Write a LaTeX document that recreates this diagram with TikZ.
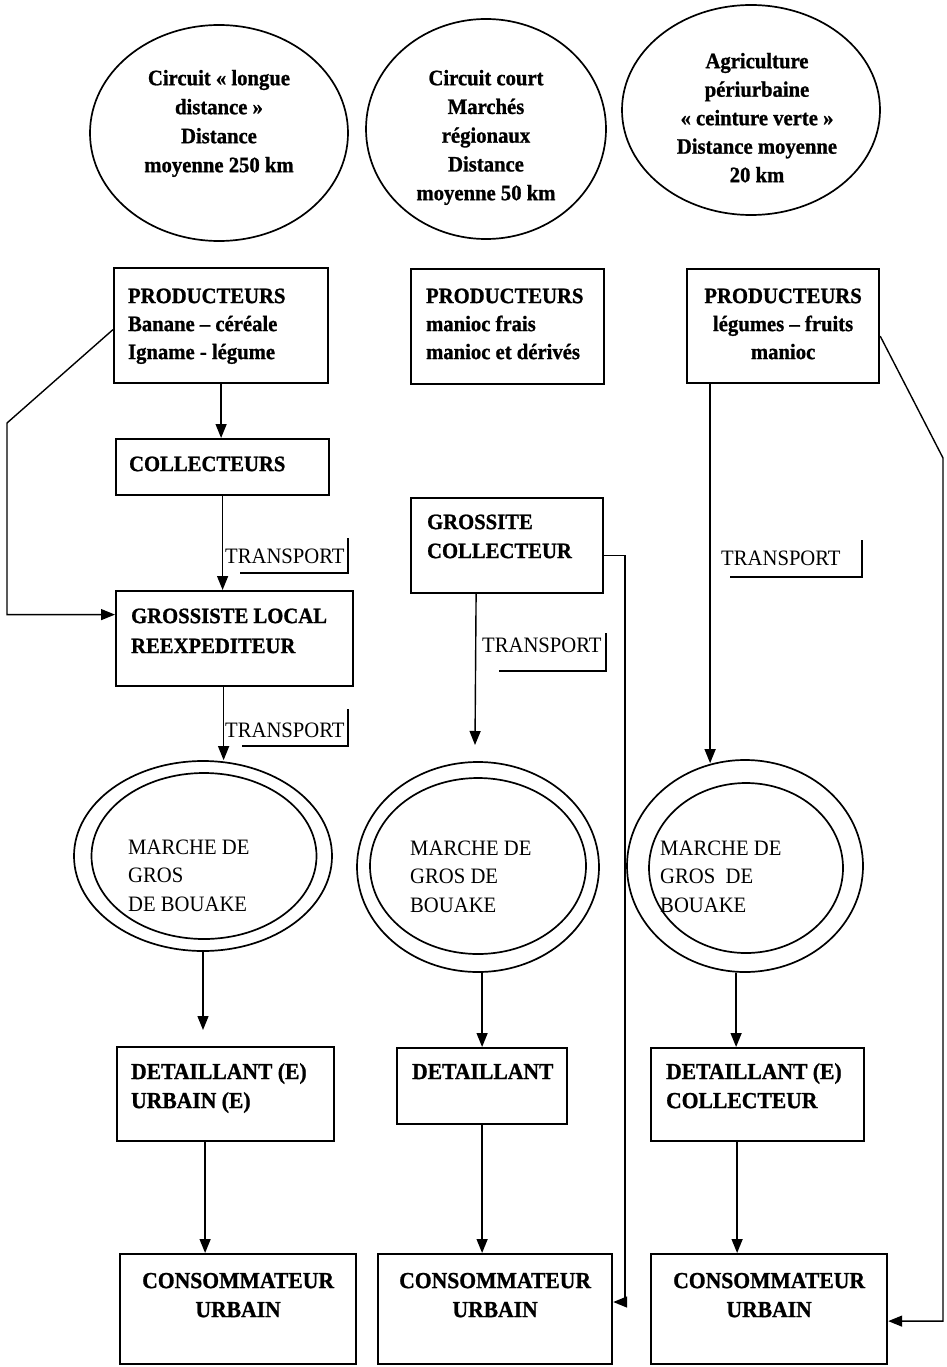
\documentclass[tikz,border=0pt]{standalone}
\usepackage{fontspec}
\setmainfont{Liberation Serif}[FakeStretch=0.94, BoldFeatures={FakeBold=1}]
\usetikzlibrary{shapes.geometric,arrows.meta,calc}
\newcommand{\bxL}[5]{\parbox[t][#2][t]{#1}{\vspace*{#3}\raggedright\leftskip=#4\relax\rule{0pt}{17pt}#5}}
\newcommand{\bxC}[4]{\parbox[t][#2][t]{#1}{\vspace*{#3}\centering\rule{0pt}{17pt}#4}}
\begin{document}
\begin{tikzpicture}[x=1pt,y=-1pt,
 box/.style={draw, line width=2.2pt, inner sep=0pt, anchor=north west, font=\fontsize{22}{28}\selectfont\bfseries},
 lowbox/.style={box, font=\fontsize{23}{29}\selectfont\bfseries},
 oval/.style={draw, ellipse, line width=1.7pt, inner sep=0pt},
 arr/.style={line width=1.4pt, -{Triangle[length=14pt,width=11pt]}},
 lbl/.style={inner sep=0pt, anchor=base west, font=\fontsize{22}{28}\selectfont},
 bracket/.style={line width=1.3pt},
 etext/.style={inner sep=0pt, anchor=north, align=center},
 mtext/.style={inner sep=0pt, anchor=north west, align=left, font=\fontsize{22}{28.5}\selectfont}]
\fill[white] (0,0) rectangle (947,1367);
\useasboundingbox (0,0) rectangle (947,1367);

% top ellipses
\node[oval, minimum width=258pt, minimum height=216pt] (e1) at (219,133) {};
\node[oval, minimum width=240pt, minimum height=220pt] (e2) at (486,129) {};
\node[oval, minimum width=258pt, minimum height=210pt] (e3) at (751,110) {};
\node[etext, font=\fontsize{22}{29}\selectfont\bfseries] (e1t) at (219,68) {\rule{0pt}{17pt}Circuit « longue\\distance »\\Distance\\moyenne 250 km};
\node[etext, font=\fontsize{22}{28.75}\selectfont\bfseries] (e2t) at (486,68) {\rule{0pt}{17pt}Circuit court\\Marchés\\régionaux\\Distance\\moyenne 50 km};
\node[etext, font=\fontsize{22}{28.5}\selectfont\bfseries] (e3t) at (757,51) {\rule{0pt}{17pt}Agriculture\\périurbaine\\« ceinture verte »\\Distance moyenne\\20 km};

% producers
\node[box] (p1) at (113,267) {\bxL{214pt}{115pt}{18pt}{14pt}{PRODUCTEURS\\Banane – céréale\\Igname - légume}};
\node[box] (p2) at (410,268) {\bxL{193pt}{115pt}{17pt}{15pt}{PRODUCTEURS\\manioc frais\\manioc et dérivés}};
\node[box] (p3) at (686,268) {\bxC{192pt}{114pt}{17pt}{PRODUCTEURS\\légumes – fruits\\manioc}};

% intermediaries
\node[box] (col) at (115,438) {\bxL{213pt}{56pt}{15pt}{13pt}{COLLECTEURS}};
\node[box, font=\fontsize{22}{29}\selectfont\bfseries] (gc) at (410,497) {\bxL{192pt}{95pt}{14pt}{16pt}{GROSSITE\\COLLECTEUR}};
\node[box, font=\fontsize{22}{30}\selectfont\bfseries] (gl) at (115,590) {\bxL{237pt}{95pt}{15pt}{15pt}{GROSSISTE LOCAL\\REEXPEDITEUR}};

% transport labels
\node[lbl] (t1) at (225,563) {TRANSPORT};
\draw[bracket] (348,538) -- (348,573) -- (240,573);
\node[lbl] (t2) at (225,737) {TRANSPORT};
\draw[bracket] (348,709) -- (348,746) -- (242,746);
\node[lbl] (t3) at (482,652) {TRANSPORT};
\draw[bracket] (606,633) -- (606,671) -- (499,671);
\node[lbl] (t4) at (721,565) {TRANSPORT};
\draw[bracket] (862,540) -- (862,577) -- (730,577);

% markets
\node[oval, minimum width=258pt, minimum height=190pt] (m1o) at (203,856) {};
\node[oval, minimum width=225pt, minimum height=166pt] (m1i) at (204,856) {};
\node[oval, minimum width=242pt, minimum height=210pt] (m2o) at (478,867) {};
\node[oval, minimum width=216pt, minimum height=176pt] (m2i) at (478,866) {};
\node[oval, minimum width=236pt, minimum height=212pt] (m3o) at (745,866) {};
\node[oval, minimum width=194pt, minimum height=170pt] (m3i) at (746,868) {};
\node[mtext] (m1t) at (128,837) {\rule{0pt}{17pt}MARCHE DE\\GROS\\DE BOUAKE};
\node[mtext] (m2t) at (410,838) {\rule{0pt}{17pt}MARCHE DE\\GROS DE\\BOUAKE};
\node[mtext] (m3t) at (660,838) {\rule{0pt}{17pt}MARCHE DE\\GROS~~DE\\BOUAKE};

% retailers
\node[lowbox] (d1) at (116,1046) {\bxL{217pt}{94pt}{15pt}{14pt}{DETAILLANT (E)\\URBAIN (E)}};
\node[lowbox] (d2) at (396,1047) {\bxL{170pt}{76pt}{14pt}{15pt}{DETAILLANT}};
\node[lowbox] (d3) at (650,1047) {\bxL{213pt}{93pt}{14pt}{15pt}{DETAILLANT (E)\\COLLECTEUR}};

% consumers
\node[lowbox] (c1) at (119,1253) {\bxC{236pt}{110pt}{17pt}{CONSOMMATEUR\\URBAIN}};
\node[lowbox] (c2) at (377,1253) {\bxC{234pt}{110pt}{17pt}{CONSOMMATEUR\\URBAIN}};
\node[lowbox] (c3) at (650,1253) {\bxC{236pt}{110pt}{17pt}{CONSOMMATEUR\\URBAIN}};

% column 1 connectors
\draw[arr] (p1.south) -- (p1.south |- col.north);
\draw[arr] (col.south) -- (col.south |- gl.north);
\coordinate (gls) at ([xshift=-11pt]gl.south);
\draw[arr] (gls) -- (gls |- m1o.north);
\coordinate (l1) at (7,423);
\coordinate (p1w) at ([yshift=-4pt]p1.west);
\coordinate (glw) at ([yshift=24pt]gl.west);
\draw[arr] (p1w) -- (l1) |- (glw);

% column 2 connectors
\coordinate (gcs) at ([xshift=-31pt]gc.south);
\coordinate (m2in) at (475,745);
\draw[arr] (gcs) -- (m2in);
\coordinate (gce) at ([yshift=-10pt]gc.east);
\coordinate (r2) at (625,1302);
\draw[arr] (gce) -| (r2) -- (r2 -| c2.east);

% column 3 connectors
\coordinate (p3s) at ([xshift=-73pt]p3.south);
\draw[arr] (p3s) -- ($(p3s |- m3o.north)+(0,4)$);
\coordinate (p3e) at ([yshift=-10pt]p3.east);
\coordinate (r3) at (943,458);
\coordinate (c3e) at ([yshift=-12pt]c3.east);
\draw[arr] (p3e) -- (r3) |- (c3e);

% lower connectors
\coordinate (d1in) at (203,1030);
\draw[arr] (d1in |- m1o.south) -- (d1in);
\draw[arr] (d2.north |- m2o.south) -- (d2.north);
\coordinate (d3n) at ([xshift=-21.5pt]d3.north);
\draw[arr] (d3n |- m3o.south) -- (d3n);
\coordinate (d1s) at ([xshift=-20.5pt]d1.south);
\draw[arr] (d1s) -- (d1s |- c1.north);
\draw[arr] (d2.south) -- (d2.south |- c2.north);
\coordinate (d3s) at ([xshift=-20.5pt]d3.south);
\draw[arr] (d3s) -- (d3s |- c3.north);
\end{tikzpicture}
\end{document}
